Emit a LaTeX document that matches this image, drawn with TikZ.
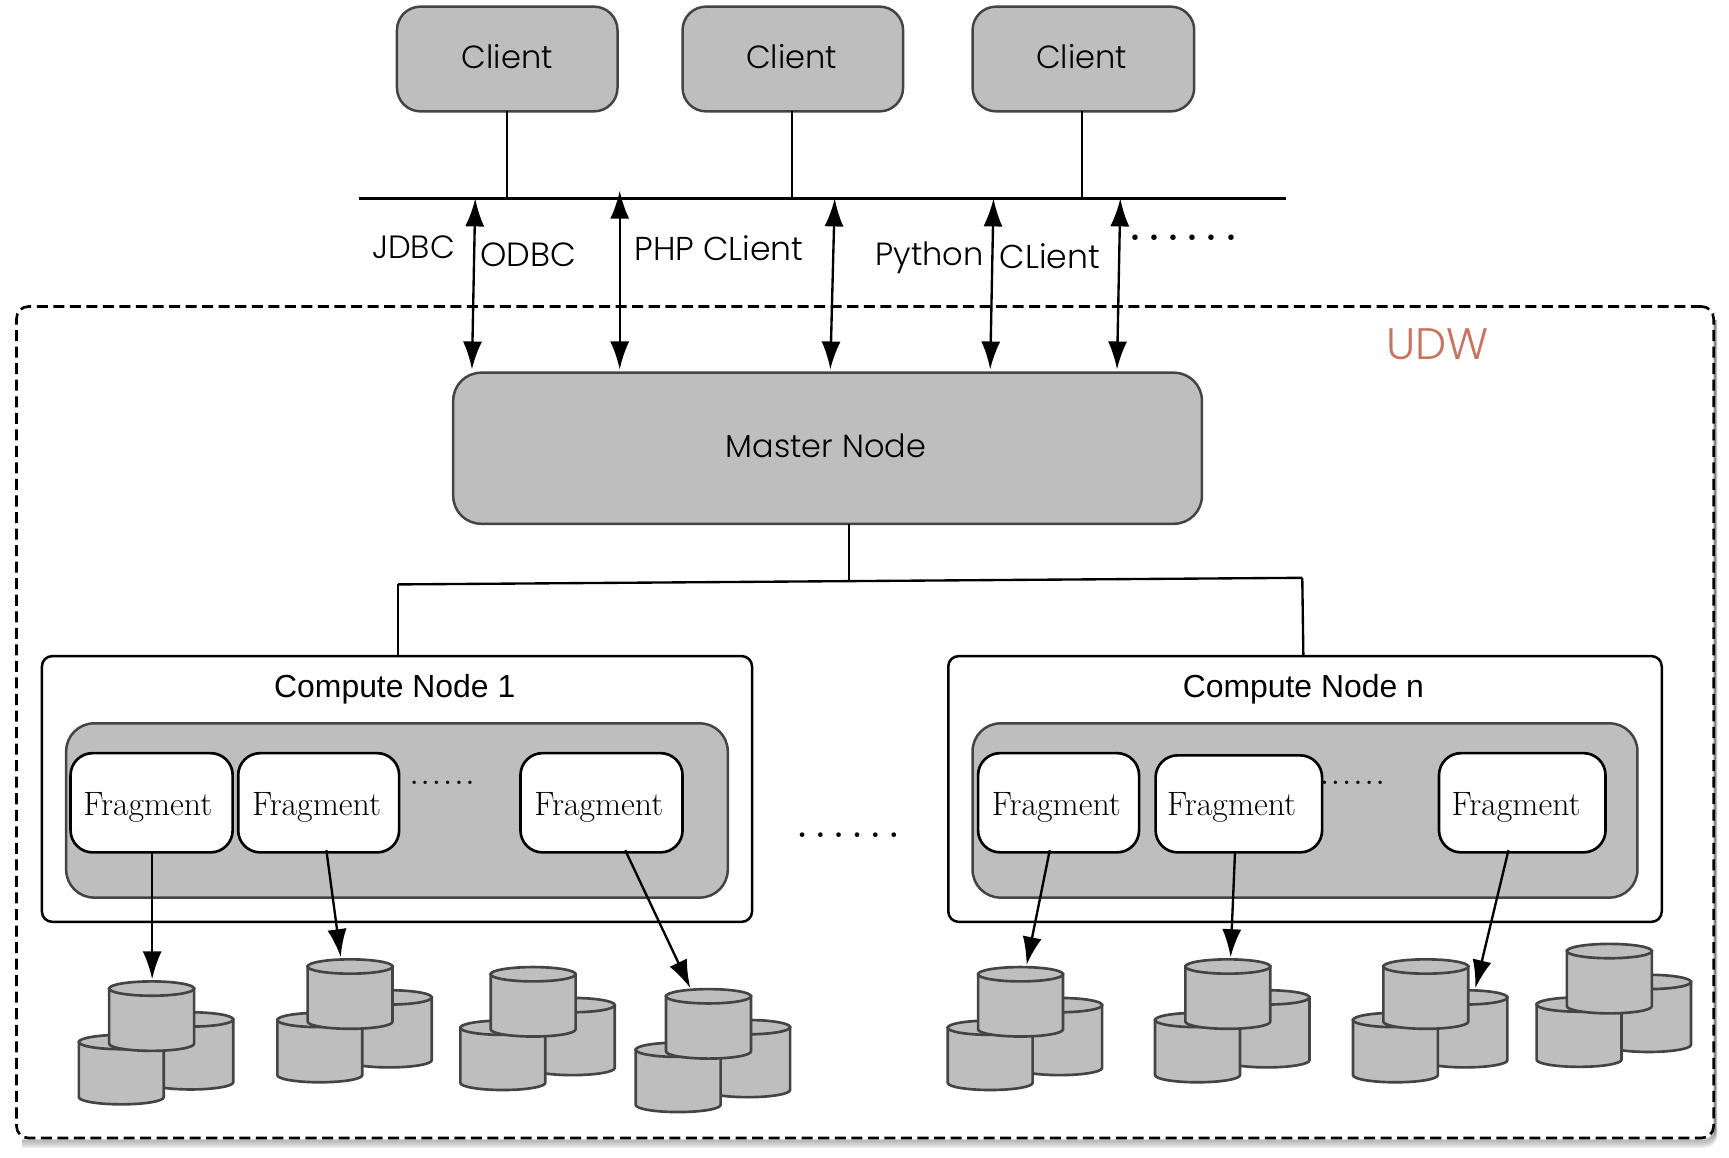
\documentclass[tikz,border=0pt]{standalone}
\usepackage{fontspec}
\setmainfont{Latin Modern Roman}
\newfontfamily\gothic{Poppins Light}
\newfontfamily\helv{Liberation Sans}
\usetikzlibrary{arrows.meta}
\definecolor{boxgray}{HTML}{BEBEBE}
\definecolor{edgegray}{HTML}{444444}
\definecolor{udwred}{HTML}{C9735F}
\tikzset{
  anynode/.style={rectangle,inner sep=0pt,outer sep=0pt,align=center},
  graybox/.style={anynode,draw=edgegray,fill=boxgray,line width=1.7pt},
  clientbox/.style={graybox,rounded corners=16pt},
  masterbox/.style={graybox,rounded corners=19pt},
  innerbox/.style={graybox,rounded corners=19pt},
  computebox/.style={anynode,draw=black,fill=white,line width=1.7pt,rounded corners=7pt},
  fragbox/.style={anynode,draw=black,fill=white,line width=1.8pt,rounded corners=15pt},
  udwbox/.style={anynode,draw=black,line width=1.8pt,dash pattern=on 7.5pt off 3.75pt,rounded corners=8pt},
  wire/.style={draw=black,line width=1.6pt},
  dbl/.style={draw=black,line width=1.6pt,{Latex[length=19pt,width=13pt]}-{Latex[length=19pt,width=13pt]}},
  sgl/.style={draw=black,line width=1.6pt,-{Latex[length=19pt,width=13pt]}},
  gtext/.style={anynode,font=\gothic\fontsize{#1}{24pt}\selectfont},
  gtext/.default=21.8pt,
  fragtext/.style={anynode,font=\fontsize{23pt}{24pt}\selectfont},
  comptext/.style={anynode,font=\helv\fontsize{21.7pt}{24pt}\selectfont},
  cylstyle/.style={fill=boxgray,draw=edgegray,line width=1.8pt},
}
\newcommand{\rbox}[7]{\node[#1,minimum width={(#5-#3)*0.75pt},minimum height={(#6-#4)*0.75pt}] (#2) at ({(#3+#5)/2},{(#4+#6)/2}) {#7};}
% cylinder: left x, top y, height
\newcommand{\cyl}[3]{%
  \path[cylstyle] (#1,#2+6.5) -- (#1,#2+#3-6.5) arc[start angle=180,end angle=0,x radius=38.5,y radius=6.5]
     -- (#1+77,#2+6.5) -- cycle;
  \path[cylstyle] (#1+38.5,#2+6.5) ellipse[x radius=38.5,y radius=6.5];
}
\newcommand{\cylgroup}[2]{%
  \cyl{#1+35.5}{#2+28}{70}
  \cyl{#1-27.5}{#2+48.5}{63}
  \cyl{#1}{#2}{63}
}
\newcommand{\dotrow}[2]{.\kern#2.\kern#2.\kern#2.\kern#2.\kern#2.}
\begin{document}
\begin{tikzpicture}[x=0.75pt,y=0.75pt,yscale=-1]
\useasboundingbox (0,0) rectangle (1568,1050);
% shadow of the dashed frame: only under and to the right
\foreach \o/\a in {8/0.05,7/0.07,6/0.09,5/0.11,4/0.13,3/0.15,2/0.15}{
  \draw[black,opacity=\a,line width=1.5pt,rounded corners=8pt]
    (1554+\o/3,290) -- (1554+\o/3,1032+\o) -- (20,1032+\o);
}
\rbox{udwbox}{udw}{15}{278}{1554}{1032}{}
% clients
\rbox{clientbox}{c1}{360}{6}{560}{101}{}
\rbox{clientbox}{c2}{619}{6}{819}{101}{}
\rbox{clientbox}{c3}{882}{6}{1083}{101}{}
\node[gtext] (c1t) at (460,51) {Client};
\node[gtext] (c2t) at (718,51) {Client};
\node[gtext] (c3t) at (981,51) {Client};
% bus
\coordinate (busL) at (326,180);
\coordinate (busR) at (1166,180);
\coordinate (b1) at (460,180);
\coordinate (b2) at (718,180);
\coordinate (b3) at (981,180);
\draw[wire] (busL) -- (busR);
\draw[wire] (c1.south) -- (b1);
\draw[wire] (c2.south -| b2) -- (b2);
\draw[wire] (c3.south -| b3) -- (b3);
% master
\rbox{masterbox}{master}{411}{338}{1090}{475}{}
\node[gtext=21.7pt] (mastert) at (749,404) {Master Node};
% double arrows
\coordinate (a1t) at (431,180); \coordinate (a1b) at (428,335);
\coordinate (a2t) at (562,173); \coordinate (a2b) at (562,335);
\coordinate (a3t) at (757,180); \coordinate (a3b) at (753,335);
\coordinate (a4t) at (901,180); \coordinate (a4b) at (898,335);
\coordinate (a5t) at (1016,180); \coordinate (a5b) at (1013,335);
\draw[dbl] (a1t) -- (a1b);
\draw[dbl] (a2t) -- (a2b);
\draw[dbl] (a3t) -- (a3b);
\draw[dbl] (a4t) -- (a4b);
\draw[dbl] (a5t) -- (a5b);
% labels
\node[gtext=21.9pt] (jdbc) at (375,224) {JDBC};
\node[gtext=22.8pt] (odbc) at (479,231) {ODBC};
\node[gtext=22.5pt] (php) at (652,225) {PHP CLient};
\node[gtext=21.8pt] (py) at (843,234) {Python};
\node[gtext=22.5pt] (pycl) at (952,232) {CLient};
\node[anynode,font=\bfseries\fontsize{26pt}{26pt}\selectfont] (d1) at (1073,216) {\dotrow{6}{4.9pt}};
\node[anynode,font=\gothic\fontsize{30pt}{30pt}\selectfont,text=udwred] (udwl) at (1304,312) {UDW};
% tree
\coordinate (tm) at (770,527);
\coordinate (tl) at (361,530);
\coordinate (tr) at (1181,524);
\draw[wire] (tl) -- (tr);
% compute nodes
\rbox{computebox}{cn1}{38}{595}{682}{836}{}
\rbox{computebox}{cnn}{860}{595}{1507}{836}{}
\draw[wire] (master.south -| tm) -- (tm);
\draw[wire] (tl) -- (tl |- cn1.north);
\draw[wire] (tr) -- (1182,595);
\node[comptext] (cn1t) at (358,625) {Compute Node 1};
\node[comptext] (cnnt) at (1182,625) {Compute Node n};
\rbox{innerbox}{in1}{60}{656}{660}{814}{}
\rbox{innerbox}{inn}{882}{656}{1485}{814}{}
\rbox{fragbox}{f1}{64}{683}{211}{773}{}
\rbox{fragbox}{f2}{216}{683}{362}{773}{}
\rbox{fragbox}{f3}{472}{683}{619}{773}{}
\rbox{fragbox}{f4}{887}{683}{1033}{773}{}
\rbox{fragbox}{f5}{1048}{685}{1199}{773}{}
\rbox{fragbox}{f6}{1305}{683}{1456}{773}{}
\node[fragtext] (t1) at (134,732) {Fragment};
\node[fragtext] (t2) at (287,732) {Fragment};
\node[fragtext] (t3) at (543,732) {Fragment};
\node[fragtext] (t4) at (958,732) {Fragment};
\node[fragtext] (t5) at (1117,732) {Fragment};
\node[fragtext] (t6) at (1375,732) {Fragment};
\node[anynode,font=\bfseries\fontsize{16pt}{16pt}\selectfont] (d2) at (401,710) {\dotrow{6}{2.6pt}};
\node[anynode,font=\bfseries\fontsize{16pt}{16pt}\selectfont] (d3) at (1226.5,710) {\dotrow{6}{2.6pt}};
\node[anynode,font=\bfseries\fontsize{22pt}{22pt}\selectfont] (d4) at (769,757) {\dotrow{6}{5.6pt}};
% cylinders
\cylgroup{99}{890}
\cylgroup{279}{870}
\cylgroup{445}{877}
\cylgroup{604}{897}
\cylgroup{887}{877}
\cylgroup{1075}{870}
\cylgroup{1254.5}{870}
\cylgroup{1421}{856}
% arrows to storage
\coordinate (s1a) at (138,773); \coordinate (s1b) at (138,888);
\coordinate (s2a) at (296,771); \coordinate (s2b) at (309,868);
\coordinate (s3a) at (567,771); \coordinate (s3b) at (626,896);
\coordinate (s4a) at (952,771); \coordinate (s4b) at (931,875);
\coordinate (s5a) at (1120,773); \coordinate (s5b) at (1116,868);
\coordinate (s6a) at (1368,771); \coordinate (s6b) at (1338,896);
\draw[sgl] (s1a) -- (s1b);
\draw[sgl] (s2a) -- (s2b);
\draw[sgl] (s3a) -- (s3b);
\draw[sgl] (s4a) -- (s4b);
\draw[sgl] (s5a) -- (s5b);
\draw[sgl] (s6a) -- (s6b);
\end{tikzpicture}
\end{document}
